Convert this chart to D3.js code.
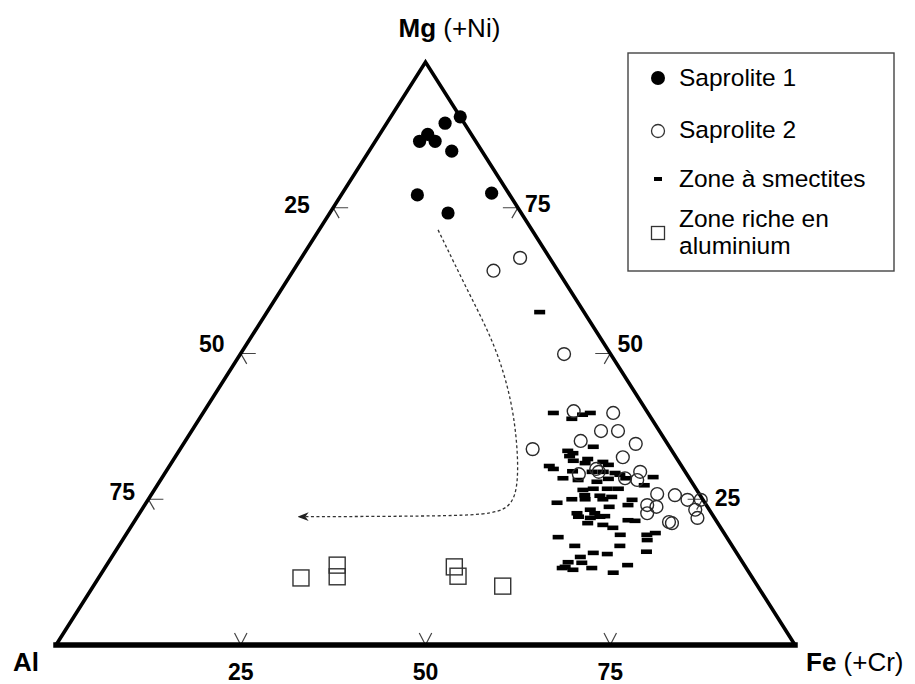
<!DOCTYPE html>
<html>
<head>
<meta charset="utf-8">
<script src="https://cdn.jsdelivr.net/npm/d3@7"></script>
<style>
  html, body { margin: 0; padding: 0; background: #fff; }
  svg { display: block; font-family: "Liberation Sans", Arial, sans-serif; }
</style>
</head>
<body>
<svg id="chart" width="915" height="684"></svg>
<script>
// ---- Data: ternary compositions in percent, [Mg(+Ni), Fe(+Cr)]; Al = 100 - Mg - Fe ----
const saprolite1 = [
  [90.6, 9.4], [89.5, 7.9], [87.6, 6.5], [86.4, 6.0], [86.4, 8.1],
  [84.7, 11.2], [77.2, 10.3], [77.5, 20.2], [74.1, 16.0]
];
const saprolite2 = [
  [66.4, 29.6], [64.2, 27.1], [49.9, 43.8], [40.1, 50.0], [39.8, 55.5],
  [36.7, 55.4], [36.7, 57.7], [35.0, 53.5], [34.5, 61.2], [33.6, 47.7],
  [32.2, 60.6], [30.2, 58.0], [29.7, 58.6], [29.3, 56.1], [29.7, 64.2],
  [28.6, 62.7], [28.3, 64.5], [25.9, 68.4], [25.7, 70.9], [24.9, 73.0],
  [24.9, 74.8], [24.0, 68.0], [23.7, 69.4], [23.2, 74.9], [21.8, 75.9],
  [22.6, 68.7], [21.1, 72.4], [20.9, 72.9]
];
const smectites = [
  [57.1, 36.9], [39.8, 47.4], [39.5, 51.5], [39.8, 52.4], [38.8, 50.4],
  [34.0, 55.7], [33.3, 52.6], [32.9, 53.5], [32.4, 53.3], [31.6, 54.2],
  [31.9, 56.0], [30.7, 51.4], [30.2, 52.2], [31.2, 56.0], [31.4, 58.3],
  [30.9, 59.3], [29.8, 55.0], [29.7, 57.7], [29.7, 59.2], [29.5, 60.9],
  [29.2, 61.7], [28.6, 54.3], [28.3, 56.5], [28.0, 59.2], [28.5, 60.5],
  [28.6, 62.8], [28.8, 66.4], [27.4, 65.9], [26.6, 58.0], [26.8, 59.3],
  [26.8, 61.2], [26.8, 62.7], [25.7, 58.7], [25.6, 60.8], [25.4, 62.5],
  [25.0, 57.3], [25.0, 59.1], [25.0, 61.5], [24.9, 65.5], [24.4, 55.6],
  [24.0, 65.4], [23.7, 63.0], [23.2, 60.7], [22.6, 59.2], [22.6, 61.6],
  [22.1, 63.2], [22.0, 59.7], [21.8, 61.4], [22.0, 62.6], [21.4, 66.7],
  [21.3, 67.7], [20.9, 61.5], [20.6, 63.7], [20.1, 65.3], [18.9, 66.9],
  [19.2, 71.5], [18.9, 70.5], [18.5, 58.7], [18.0, 71.0], [17.0, 61.7],
  [17.0, 67.8], [16.0, 71.9], [15.8, 64.8], [15.6, 66.8], [15.1, 63.4],
  [14.2, 62.2], [14.1, 64.1], [13.2, 65.9], [13.4, 62.2], [12.9, 63.5],
  [13.7, 70.5], [12.4, 69.2], [13.2, 61.9]
];
const aluminium = [
  [11.5, 27.4], [13.7, 31.2], [11.7, 32.2], [13.4, 47.2], [11.8, 48.5], [10.1, 55.4]
];
// trend arrow (dotted), as compositions [Mg, Fe]
const trendPath = [
  [71.2, 16.1], [60.0, 26.0], [51.5, 33.7], [42.0, 40.7], [33.4, 45.8],
  [27.4, 48.8], [24.0, 49.7], [22.5, 48.2], [22.1, 42.3], [22.0, 22.0]
];
const tickValues = [25, 50, 75];
const tickLabels = ["25", "50", "75"];
const legendLabels = ["Saprolite 1", "Saprolite 2", "Zone à smectites", ["Zone riche en", "aluminium"]];

// ---- Scales ----
const svg = d3.select("#chart");
const xScale = d3.scaleLinear().domain([0, 100]).range([56, 795]);   // Fe + Mg/2
const yScale = d3.scaleLinear().domain([0, 100]).range([645, 62]);   // Mg
const proj = d => [xScale(d[1] + d[0] / 2), yScale(d[0])];

const vAl = proj([0, 0]), vFe = proj([0, 100]), vMg = proj([100, 0]);

// ---- Ticks ----
const tickG = svg.append("g").attr("stroke", "#444").attr("stroke-width", 1.2).attr("fill", "none");
const arm = 12, armDx = arm * Math.cos(Math.PI / 3), armDy = arm * Math.sin(Math.PI / 3);
// left edge: Al %
tickValues.forEach(v => {
  const [x, y] = proj([100 - v, 0]);
  tickG.append("path").attr("d", `M${x},${y}L${x + 15},${y}M${x + armDx},${y - armDy}L${x},${y}L${x + armDx},${y + armDy}`);
});
// right edge: Mg %
tickValues.forEach(v => {
  const [x, y] = proj([v, 100 - v]);
  tickG.append("path").attr("d", `M${x},${y}L${x - 15},${y}M${x - armDx},${y - armDy}L${x},${y}L${x - armDx},${y + armDy}`);
});
// bottom edge: Fe %
tickValues.forEach(v => {
  const [x, y] = proj([0, v]);
  tickG.append("path").attr("d", `M${x - armDy * 0.6},${y - 12}L${x},${y}L${x + armDy * 0.6},${y - 12}`);
});

// ---- Triangle ----
svg.append("path")
  .attr("d", d3.line()([vAl, vMg, vFe]))
  .attr("fill", "none").attr("stroke", "#000").attr("stroke-width", 3.6)
  .attr("stroke-linejoin", "miter");
svg.append("path")
  .attr("d", d3.line()([vAl, vFe]))
  .attr("fill", "none").attr("stroke", "#000").attr("stroke-width", 5.5)
  .attr("stroke-linecap", "square");

// ---- Tick labels ----
const labG = svg.append("g").attr("font-weight", "bold").attr("font-size", 23).attr("fill", "#000").attr("text-anchor", "middle");
const leftOff = [[-36, 5], [-29, -2], [-26, 1]];
const rightOff = [[25, 7], [20, -2], [20, 4]];
tickValues.forEach((v, i) => {
  const [x, y] = proj([100 - v, 0]);
  labG.append("text").attr("x", x + leftOff[i][0]).attr("y", y + leftOff[i][1]).text(tickLabels[i]);
});
tickValues.forEach((v, i) => {
  const [x, y] = proj([v, 100 - v]);
  labG.append("text").attr("x", x + rightOff[i][0]).attr("y", y + rightOff[i][1]).text(tickLabels[i]);
});
tickValues.forEach((v, i) => {
  const [x, y] = proj([0, v]);
  labG.append("text").attr("x", x).attr("y", y + 35).text(tickLabels[i]);
});

// ---- Vertex labels ----
const mgT = svg.append("text").attr("x", vMg[0] - 27).attr("y", 37).attr("font-size", 26);
mgT.append("tspan").attr("font-weight", "bold").text("Mg");
mgT.append("tspan").text(" (+Ni)");
svg.append("text").attr("x", 13).attr("y", 671).attr("font-size", 26).attr("font-weight", "bold").text("Al");
const feT = svg.append("text").attr("x", 806).attr("y", 671).attr("font-size", 26);
feT.append("tspan").attr("font-weight", "bold").text("Fe");
feT.append("tspan").text(" (+Cr)");

// ---- Trend arrow ----
const defs = svg.append("defs");
defs.append("marker").attr("id", "arr").attr("viewBox", "0 0 10 10").attr("refX", 8).attr("refY", 5)
  .attr("markerWidth", 11).attr("markerHeight", 11).attr("markerUnits", "userSpaceOnUse").attr("orient", "auto")
  .append("path").attr("d", "M0,1L10,5L0,9L3,5Z").attr("fill", "#222");
svg.append("path")
  .attr("d", d3.line().curve(d3.curveBasis)(trendPath.map(proj)))
  .attr("fill", "none").attr("stroke", "#333").attr("stroke-width", 1.3)
  .attr("stroke-dasharray", "3,2.5").attr("marker-end", "url(#arr)");

// ---- Marks ----
svg.append("g").selectAll("rect").data(smectites).join("rect")
  .attr("x", d => proj(d)[0] - 5.5).attr("y", d => proj(d)[1] - 2.3)
  .attr("width", 11).attr("height", 4.6).attr("fill", "#000");

svg.append("g").selectAll("rect").data(aluminium).join("rect")
  .attr("x", d => proj(d)[0] - 8).attr("y", d => proj(d)[1] - 8)
  .attr("width", 16).attr("height", 16).attr("fill", "none").attr("stroke", "#333").attr("stroke-width", 1.4);

svg.append("g").selectAll("circle").data(saprolite2).join("circle")
  .attr("cx", d => proj(d)[0]).attr("cy", d => proj(d)[1]).attr("r", 6.4)
  .attr("fill", "none").attr("stroke", "#2a2a2a").attr("stroke-width", 1.4);

svg.append("g").selectAll("circle").data(saprolite1).join("circle")
  .attr("cx", d => proj(d)[0]).attr("cy", d => proj(d)[1]).attr("r", 6.6)
  .attr("fill", "#000");

// ---- Legend ----
const lg = svg.append("g");
lg.append("rect").attr("x", 628).attr("y", 53).attr("width", 266).attr("height", 218)
  .attr("fill", "#fff").attr("stroke", "#444").attr("stroke-width", 1.4);
lg.append("circle").attr("cx", 658).attr("cy", 78).attr("r", 7).attr("fill", "#000");
lg.append("circle").attr("cx", 658).attr("cy", 131).attr("r", 6.5).attr("fill", "none").attr("stroke", "#333").attr("stroke-width", 1.3);
lg.append("rect").attr("x", 654).attr("y", 177).attr("width", 8).attr("height", 4).attr("fill", "#000");
lg.append("rect").attr("x", 651.5).attr("y", 226.5).attr("width", 13).attr("height", 13).attr("fill", "none").attr("stroke", "#333").attr("stroke-width", 1.3);
const lt = lg.append("g").attr("font-size", 24.5).attr("fill", "#000");
lt.append("text").attr("x", 679).attr("y", 86).text(legendLabels[0]);
lt.append("text").attr("x", 679).attr("y", 138).text(legendLabels[1]);
lt.append("text").attr("x", 679).attr("y", 187).text(legendLabels[2]);
lt.append("text").attr("x", 679).attr("y", 227).text(legendLabels[3][0]);
lt.append("text").attr("x", 679).attr("y", 254).text(legendLabels[3][1]);
</script>
</body>
</html>
